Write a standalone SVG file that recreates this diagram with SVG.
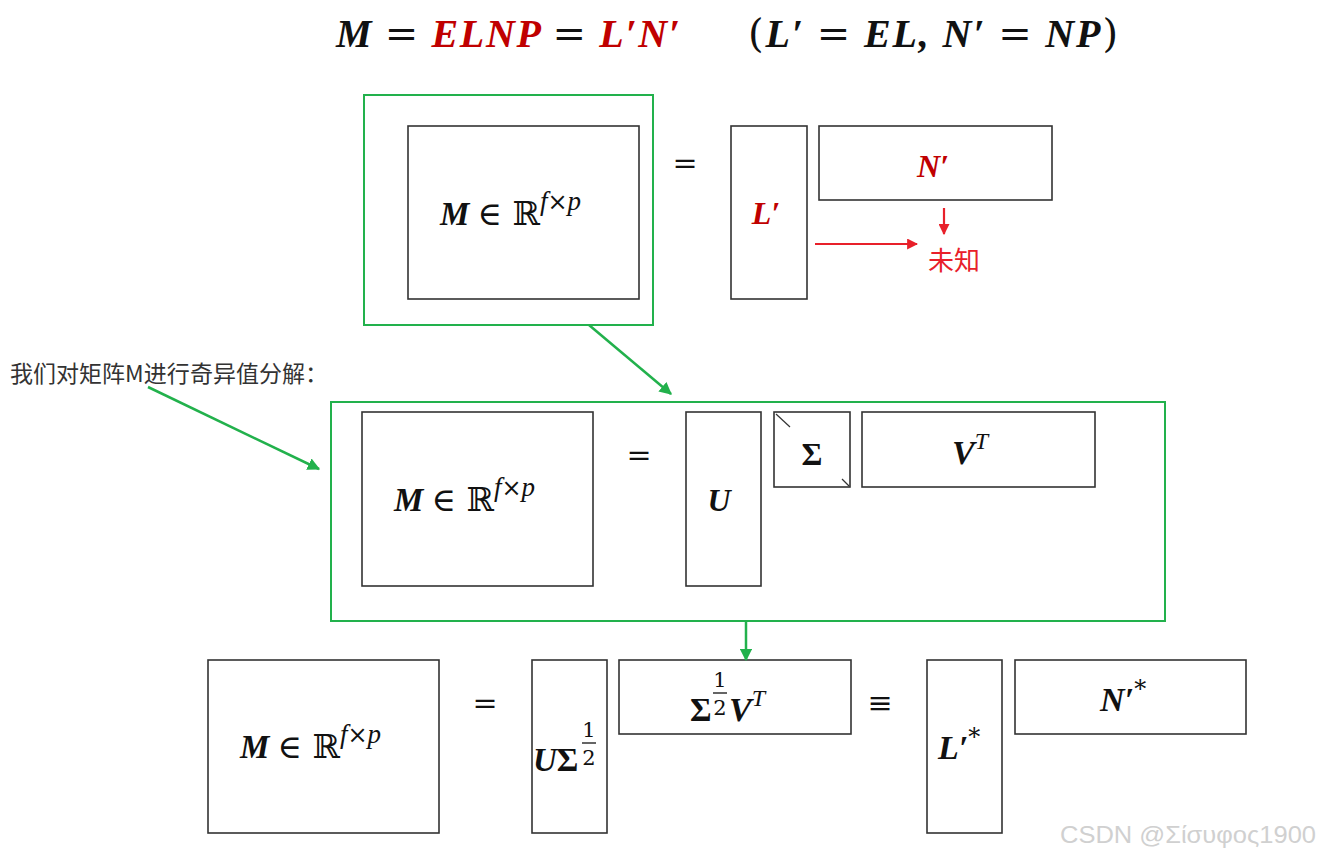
<svg xmlns="http://www.w3.org/2000/svg" width="1321" height="856" viewBox="0 0 1321 856">
<defs>
<style>
.box{fill:none;stroke:#333;stroke-width:1.6}
.gbox{fill:none;stroke:#22b14c;stroke-width:2}
.m{font-family:"Liberation Serif","DejaVu Serif",serif;font-weight:bold;font-style:italic;fill:#111}
.up{font-family:"DejaVu Serif","Liberation Serif",serif;font-style:normal;font-weight:normal;fill:#111}
.sg{font-style:normal}
.sup{font-weight:normal}
.red{fill:#c00000}
.g{stroke:#22b14c;stroke-width:2.5;fill:none}
.r{stroke:#e8202a;stroke-width:2.2;fill:none}
.cn{font-family:"Noto Sans CJK SC","Noto Sans",sans-serif}
</style>
<marker id="ag" viewBox="0 0 10 10" refX="9" refY="5" markerWidth="5" markerHeight="5" orient="auto"><path d="M0,0L10,5L0,10z" fill="#22b14c"/></marker>
<marker id="ar" viewBox="0 0 10 10" refX="9" refY="5" markerWidth="5" markerHeight="5" orient="auto"><path d="M0,0L10,5L0,10z" fill="#e8202a"/></marker>
</defs>
<rect width="1321" height="856" fill="#fff"/>

<g id="title">
<text x="336" y="47" font-size="40" class="m" textLength="344" lengthAdjust="spacing">M <tspan class="up">=</tspan> <tspan class="red">ELNP</tspan> <tspan class="up">=</tspan> <tspan class="red">L′N′</tspan></text>
<text x="748" y="47" font-size="40" class="m" textLength="370" lengthAdjust="spacing"><tspan class="up">(</tspan>L′ <tspan class="up">=</tspan> EL,  N′ <tspan class="up">=</tspan> NP<tspan class="up">)</tspan></text>
</g>

<g id="group1">
<rect class="gbox" x="364" y="95" width="289" height="230"/>
<g id="M1"><rect class="box" x="408" y="126" width="231" height="173"/>
<text x="440" y="225" font-size="33" class="m">M <tspan class="up">∈ ℝ</tspan><tspan class="sup" font-size="27" dy="-15">f</tspan><tspan class="up" font-size="24">×</tspan><tspan class="sup" font-size="27">p</tspan></text></g>
<text x="685" y="173" font-size="30" class="up" text-anchor="middle">=</text>
<g id="L1"><rect class="box" x="731" y="126" width="76" height="173"/>
<text x="766" y="224" font-size="32" class="m red" text-anchor="middle">L′</text></g>
<g id="N1"><rect class="box" x="819" y="126" width="233" height="74"/>
<text x="933" y="177" font-size="32" class="m red" text-anchor="middle">N′</text></g>
<text id="unknown" x="928" y="270" font-size="26" class="cn" fill="#e8202a">未知</text>
</g>

<g id="group2">
<rect class="gbox" x="331" y="402" width="834" height="219"/>
<g id="M2"><rect class="box" x="362" y="412" width="231" height="174"/>
<text x="394" y="511" font-size="33" class="m">M <tspan class="up">∈ ℝ</tspan><tspan class="sup" font-size="27" dy="-15">f</tspan><tspan class="up" font-size="24">×</tspan><tspan class="sup" font-size="27">p</tspan></text></g>
<text x="639" y="465" font-size="30" class="up" text-anchor="middle">=</text>
<g id="U"><rect class="box" x="686" y="412" width="75" height="174"/>
<text x="719" y="511" font-size="32" class="m" text-anchor="middle">U</text></g>
<g id="S"><rect class="box" x="774" y="412" width="76" height="75"/>
<line x1="776" y1="414" x2="790" y2="427" stroke="#333" stroke-width="1.2"/>
<line x1="842" y1="479" x2="849" y2="486" stroke="#333" stroke-width="1.2"/>
<text x="812" y="465" font-size="32" class="m sg" text-anchor="middle">Σ</text></g>
<g id="VT"><rect class="box" x="862" y="412" width="233" height="75"/>
<text x="952" y="464" font-size="34" class="m">V<tspan class="sup" font-size="24" dy="-15">T</tspan></text></g>
</g>

<g id="row3">
<g id="M3"><rect class="box" x="208" y="660" width="231" height="173"/>
<text x="240" y="758" font-size="33" class="m">M <tspan class="up">∈ ℝ</tspan><tspan class="sup" font-size="27" dy="-15">f</tspan><tspan class="up" font-size="24">×</tspan><tspan class="sup" font-size="27">p</tspan></text></g>
<text x="485" y="713" font-size="30" class="up" text-anchor="middle">=</text>
<g id="US"><rect class="box" x="532" y="660" width="75" height="173"/>
<text x="533" y="771" font-size="33" class="m">U<tspan class="sg">Σ</tspan></text>
<text x="589" y="737" font-size="21" class="up" text-anchor="middle">1</text>
<line x1="582" y1="743" x2="596" y2="743" stroke="#111" stroke-width="1.3"/>
<text x="589" y="765" font-size="21" class="up" text-anchor="middle">2</text></g>
<g id="SVT"><rect class="box" x="619" y="660" width="232" height="74"/>
<text x="690" y="721" font-size="33" class="m sg">Σ</text>
<text x="720" y="687" font-size="21" class="up" text-anchor="middle">1</text>
<line x1="713" y1="693" x2="727" y2="693" stroke="#111" stroke-width="1.3"/>
<text x="720" y="715" font-size="21" class="up" text-anchor="middle">2</text>
<text x="729" y="721" font-size="34" class="m">V<tspan class="sup" font-size="24" dy="-15">T</tspan></text></g>
<text x="880" y="713" font-size="30" class="up" text-anchor="middle">≡</text>
<g id="Lstar"><rect class="box" x="927" y="660" width="75" height="173"/>
<text x="938" y="759" font-size="34" class="m">L′<tspan class="up" font-size="24" dy="-14">*</tspan></text></g>
<g id="Nstar"><rect class="box" x="1015" y="660" width="231" height="74"/>
<text x="1100" y="711" font-size="34" class="m">N′<tspan class="up" font-size="24" dy="-14">*</tspan></text></g>
</g>

<text id="note" x="10" y="382" font-size="23" class="cn" fill="#333" textLength="318" lengthAdjust="spacing">我们对矩阵M进行奇异值分解：</text>

<g id="connectors">
<line class="g" x1="589" y1="325" x2="671" y2="394" marker-end="url(#ag)"/>
<line class="g" x1="148" y1="387" x2="319" y2="469" marker-end="url(#ag)"/>
<line class="g" x1="746" y1="622" x2="746" y2="660" marker-end="url(#ag)"/>
<line class="r" x1="944" y1="208" x2="944" y2="234" marker-end="url(#ar)"/>
<line class="r" x1="815" y1="244" x2="917" y2="244" marker-end="url(#ar)"/>
</g>

<text id="watermark" x="1060" y="843" font-size="24" font-family="Liberation Sans,Arial,sans-serif" fill="#d0d0d0" textLength="256" lengthAdjust="spacingAndGlyphs">CSDN @Σίσυφος1900</text>
</svg>
